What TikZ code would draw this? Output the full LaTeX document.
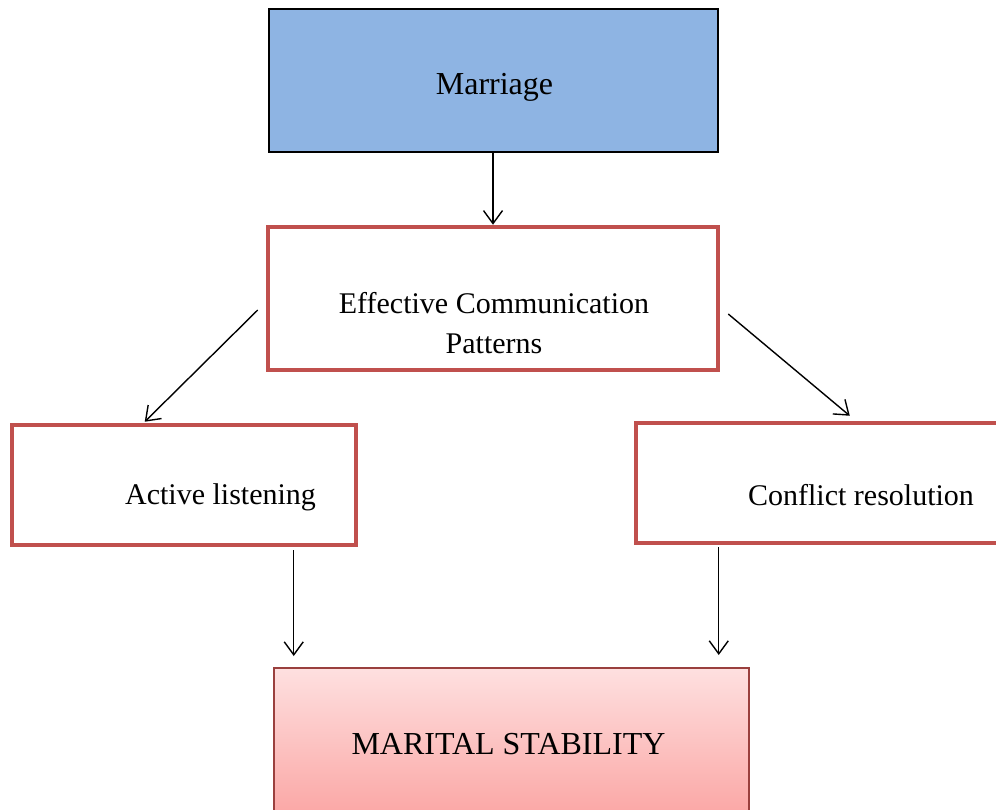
\documentclass[tikz,border=0pt]{standalone}
\usepackage{fontspec}
\setmainfont{Liberation Serif}
\usetikzlibrary{arrows.meta}
\definecolor{boxblue}{HTML}{8EB4E3}
\definecolor{boxred}{HTML}{C0504D}
\definecolor{pinktop}{HTML}{FEE0E0}
\definecolor{pinkbot}{HTML}{FA9E9C}
\tikzset{
	redbox/.style={draw=boxred, line width=4.5pt, fill=white, inner sep=0pt},
	label/.style={align=center, inner sep=0pt},
	link/.style={->, line width=1.4pt}
}
\begin{document}
\begin{tikzpicture}[x=1pt, y=-1pt, font=\fontsize{30}{40}\selectfont, >={Straight Barb[length=13pt,width=19pt]}]
	\useasboundingbox (0,0) rectangle (996,809);
	\clip (0,0) rectangle (996,809);
	% boxes
	\node[draw, line width=2pt, fill=boxblue, minimum width=449pt, minimum height=143pt] (marriage) at (493,80.5) {};
	\node[redbox, minimum width=450pt, minimum height=143pt] (ecp) at (493,298.5) {};
	\node[redbox, minimum width=344pt, minimum height=120pt] (active) at (184,485) {};
	\node[redbox, minimum width=400pt, minimum height=120pt] (conflict) at (836,483) {};
	\node[draw=boxred!80!black, line width=1.5pt, top color=pinktop, bottom color=pinkbot, minimum width=475pt, minimum height=170pt, anchor=north west] (stability) at (273,667) {};
	% texts
	\node[label, font=\fontsize{32}{40}\selectfont] (marriagetxt) at (494.5,87) {Marriage};
	\node[label] (ecptxt) at (494,323) {Effective Communication\\Patterns};
	\node[label] (activetxt) at (220.5,497) {Active listening};
	\node[label] (conflicttxt) at (861,495) {Conflict resolution};
	\node[label, font=\fontsize{32}{40}\selectfont] (stabtxt) at (508.5,744) {MARITAL STABILITY};
	% arrows
	\draw[link] (marriage.south) -- (ecp.north);
	\draw[link] ([xshift=-8pt,yshift=-11.5pt]ecp.west) -- ([xshift=135pt,yshift=1pt]active.north west);
	\draw[link] ([xshift=8pt,yshift=-15.5pt]ecp.east) -- ([xshift=216pt,yshift=5pt]conflict.north west);
	\draw[link] ([xshift=284pt,yshift=-3pt]active.south west) coordinate (actout) -- ([yshift=11pt]actout |- stability.north);
	\draw[link] ([xshift=85pt,yshift=-2pt]conflict.south west) coordinate (conout) -- ([yshift=12pt]conout |- stability.north);
\end{tikzpicture}
\end{document}
